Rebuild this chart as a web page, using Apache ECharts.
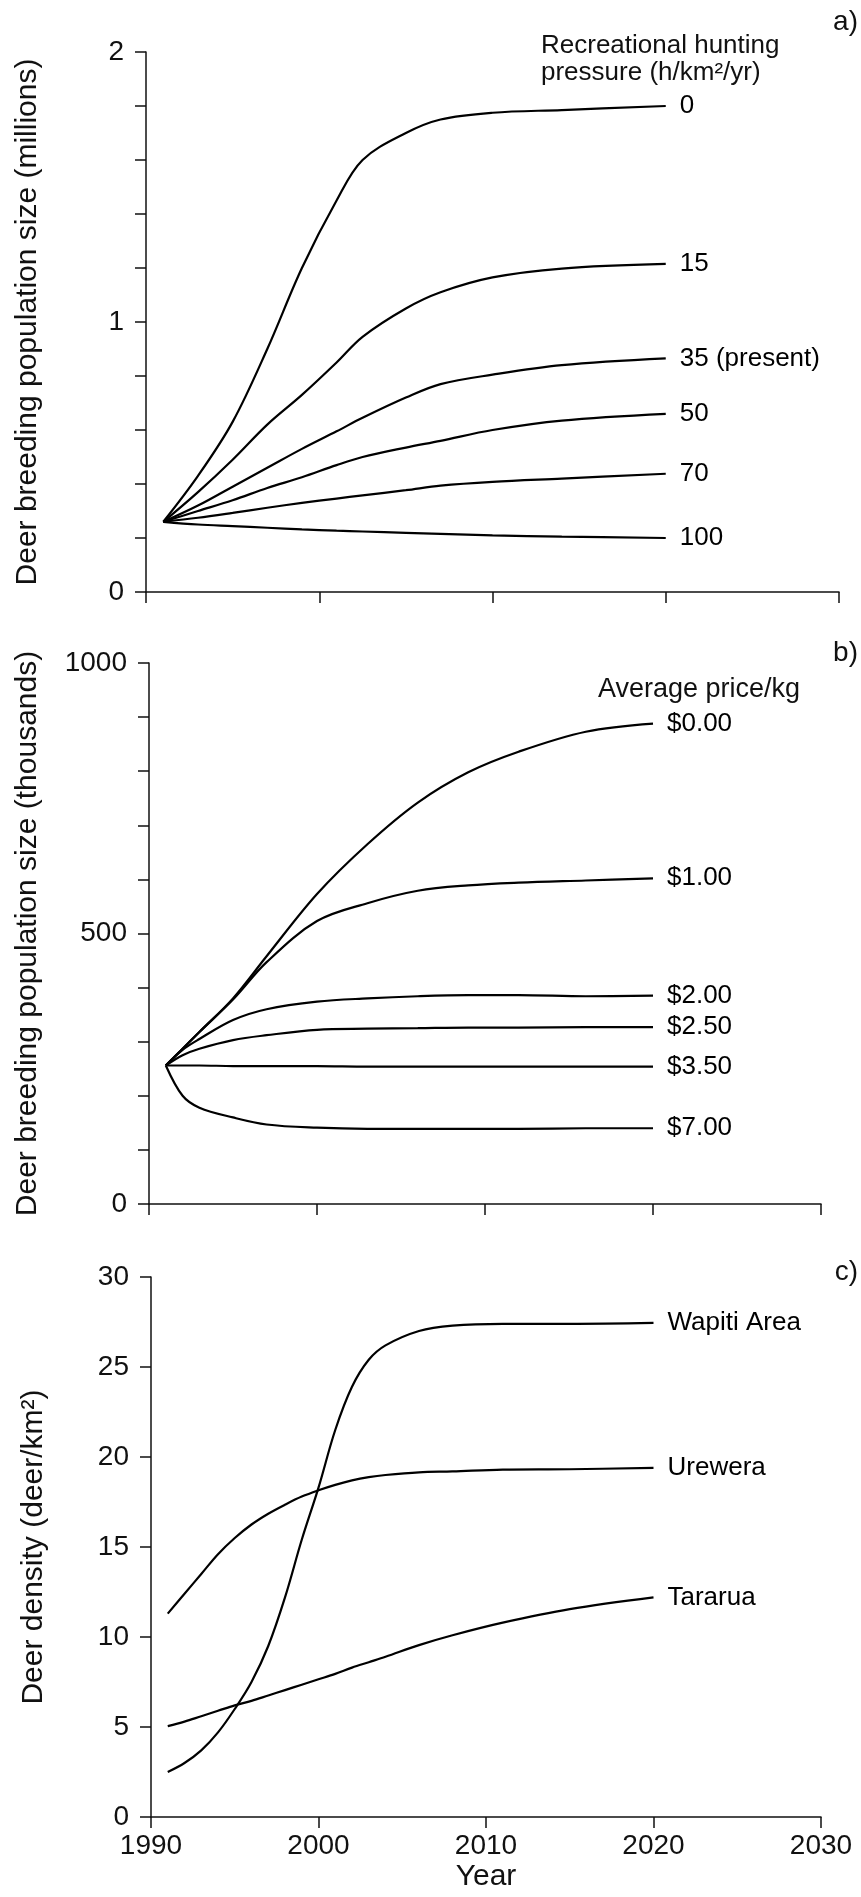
<!DOCTYPE html>
<html>
<head>
<meta charset="utf-8">
<script src="https://cdn.jsdelivr.net/npm/echarts@6/dist/echarts.min.js"></script>
<style>
  html, body { margin: 0; padding: 0; background: #fff; }
  #chart { width: 861px; height: 1897px; }
</style>
</head>
<body>
<div id="chart"></div>
<script>
// panel a) - recreational hunting pressure (h/km2/yr), population in millions
const yearsA = [1991, 1993, 1995, 1997, 1999, 2001, 2002.5, 2005, 2007, 2010, 2014, 2020];
const hunt0 = [0.26, 0.43, 0.63, 0.90, 1.20, 1.45, 1.60, 1.70, 1.75, 1.775, 1.785, 1.80];
const hunt15 = [0.26, 0.37, 0.49, 0.62, 0.73, 0.85, 0.945, 1.05, 1.11, 1.165, 1.198, 1.215];
const hunt35 = [0.26, 0.32, 0.39, 0.46, 0.53, 0.595, 0.645, 0.72, 0.77, 0.805, 0.84, 0.865];
const hunt50 = [0.26, 0.30, 0.34, 0.385, 0.425, 0.47, 0.50, 0.535, 0.56, 0.60, 0.635, 0.66];
const hunt70 = [0.26, 0.275, 0.293, 0.312, 0.33, 0.346, 0.358, 0.377, 0.394, 0.408, 0.42, 0.438];
const hunt100 = [0.26, 0.250, 0.244, 0.238, 0.232, 0.227, 0.224, 0.219, 0.215, 0.210, 0.205, 0.200];
const huntNames = ['0', '15', '35 (present)', '50', '70', '100'];

// panel b) - average price/kg, population in thousands
const yearsB = [1991, 1992, 1993, 1995, 1997, 2000, 2003, 2006, 2009, 2012, 2016, 2020];
const price000 = [256, 287, 318, 380, 458, 573, 665, 742, 798, 836, 873, 888];
const price100 = [256, 287, 318, 378, 447, 523, 556, 579, 589, 594, 598, 602];
const price200 = [256, 285, 305, 340, 360, 374, 380, 384, 386, 386, 384, 385];
const price250 = [256, 275, 287, 303, 312, 322, 324, 325, 326, 326, 327, 327];
const price350 = [256, 256, 256, 255, 255, 255, 254, 254, 254, 254, 254, 254];
const price700 = [256, 200, 178, 160, 147, 141, 139, 139, 139, 139, 140, 140];
const priceNames = ['$0.00', '$1.00', '$2.00', '$2.50', '$3.50', '$7.00'];

// panel c) - deer density (deer/km2)
const yearsC = [1991, 1992, 1993, 1994, 1995, 1996, 1997, 1998, 1999, 2000, 2001, 2002, 2003, 2004, 2006, 2008, 2011, 2015, 2020];
const wapiti = [2.5, 3.0, 3.7, 4.7, 6.0, 7.5, 9.5, 12.2, 15.4, 18.3, 21.5, 23.9, 25.4, 26.2, 27.0, 27.3, 27.4, 27.4, 27.45];
const urewera = [11.3, 12.4, 13.5, 14.6, 15.5, 16.25, 16.85, 17.35, 17.8, 18.15, 18.45, 18.7, 18.88, 19.0, 19.15, 19.2, 19.3, 19.32, 19.4];
const tararua = [5.05, 5.3, 5.6, 5.9, 6.2, 6.45, 6.75, 7.05, 7.35, 7.65, 7.95, 8.3, 8.6, 8.9, 9.55, 10.1, 10.8, 11.55, 12.2];
const areaNames = ['Wapiti Area', 'Urewera', 'Tararua'];

const xTicks = [1990, 2030, 10];

const FONT = 'Liberation Sans, Arial, sans-serif';
const INK = '#111';

function pairs(xs, ys) {
  return xs.map((x, i) => [x, ys[i]]);
}

function curve(name, idx, xs, ys) {
  return {
    name: name,
    type: 'line',
    xAxisIndex: idx,
    yAxisIndex: idx,
    data: pairs(xs, ys),
    showSymbol: false,
    smooth: 0.35,
    lineStyle: { color: '#000', width: 2.2 },
    endLabel: {
      show: true,
      formatter: '{a}',
      distance: 14,
      fontSize: 26,
      color: '#000',
      fontFamily: FONT
    },
    emphasis: { disabled: true }
  };
}

function xAxis(idx, withLabels) {
  return {
    type: 'value',
    gridIndex: idx,
    min: xTicks[0],
    max: xTicks[1],
    interval: xTicks[2],
    splitLine: { show: false },
    axisLine: { show: true, lineStyle: { color: INK, width: 1.5 } },
    axisTick: { show: true, length: 11, lineStyle: { color: INK, width: 1.5 } },
    axisLabel: {
      show: withLabels,
      fontSize: 28,
      margin: 15,
      color: INK,
      fontFamily: FONT,
      formatter: function (v) { return String(v); }
    },
    name: withLabels ? 'Year' : '',
    nameLocation: 'middle',
    nameGap: 45,
    nameTextStyle: { fontSize: 30, color: INK, fontFamily: FONT }
  };
}

function yAxis(idx, max, interval, labelStep, name, nameGap) {
  return {
    type: 'value',
    gridIndex: idx,
    min: 0,
    max: max,
    interval: interval,
    splitLine: { show: false },
    axisLine: { show: true, lineStyle: { color: INK, width: 1.5 } },
    axisTick: { show: true, length: 11, lineStyle: { color: INK, width: 1.5 } },
    axisLabel: {
      fontSize: 28,
      margin: 22,
      color: INK,
      fontFamily: FONT,
      formatter: function (v) {
        const r = v / labelStep;
        return Math.abs(r - Math.round(r)) < 1e-6 ? String(Math.round(v)) : '';
      }
    },
    name: name,
    nameLocation: 'middle',
    nameGap: nameGap,
    nameTextStyle: { fontSize: 30, color: INK, fontFamily: FONT }
  };
}

function note(text, x, y, size, align) {
  return {
    type: 'text',
    x: x,
    y: y,
    style: {
      text: text,
      fontSize: size,
      fontFamily: FONT,
      fill: INK,
      align: align || 'left',
      verticalAlign: 'middle'
    }
  };
}

const chart = echarts.init(document.getElementById('chart'), null, { renderer: 'canvas' });

const huntData = [hunt0, hunt15, hunt35, hunt50, hunt70, hunt100];
const priceData = [price000, price100, price200, price250, price350, price700];
const areaData = [wapiti, urewera, tararua];

const series = [];
huntData.forEach((d, i) => series.push(curve(huntNames[i], 0, yearsA, d)));
priceData.forEach((d, i) => series.push(curve(priceNames[i], 1, yearsB, d)));
areaData.forEach((d, i) => series.push(curve(areaNames[i], 2, yearsC, d)));

const option = {
  animation: false,
  backgroundColor: '#fff',
  textStyle: { fontFamily: FONT },
  grid: [
    { left: 146, top: 52, width: 693, height: 540, outerBoundsMode: 'none' },
    { left: 149, top: 663, width: 672, height: 541, outerBoundsMode: 'none' },
    { left: 151, top: 1277, width: 670, height: 540, outerBoundsMode: 'none' }
  ],
  xAxis: [xAxis(0, false), xAxis(1, false), xAxis(2, true)],
  yAxis: [
    yAxis(0, 2, 0.2, 1, 'Deer breeding population size (millions)', 103),
    yAxis(1, 1000, 100, 500, 'Deer breeding population size (thousands)', 106),
    yAxis(2, 30, 5, 5, 'Deer density (deer/km²)', 102)
  ],
  graphic: [
    note('a)', 858, 22, 28, 'right'),
    note('Recreational hunting', 541, 46, 26),
    note('pressure (h/km²/yr)', 541, 73, 26),
    note('b)', 858, 653, 28, 'right'),
    note('Average price/kg', 598, 690, 27),
    note('c)', 858, 1272, 28, 'right')
  ],
  series: series
};

chart.setOption(option);
</script>
</body>
</html>
